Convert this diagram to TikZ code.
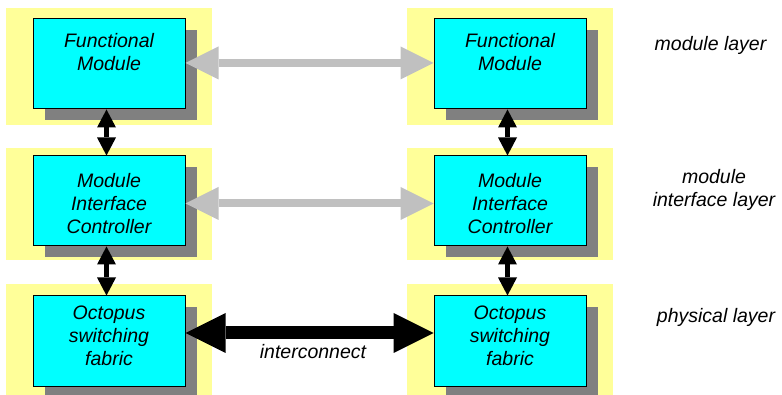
\documentclass[tikz,border=0pt]{standalone}
\usepackage{fontspec}
\setmainfont{Liberation Sans}
\usetikzlibrary{arrows.meta}
\definecolor{padyellow}{RGB}{255,255,153}
\definecolor{boxcyan}{RGB}{0,255,255}
\definecolor{shadowgray}{RGB}{128,128,128}
\definecolor{linkgray}{RGB}{192,192,192}
\begin{document}
\begin{tikzpicture}[x=1pt,y=-1pt,
  pad/.style={fill=padyellow},
  shade/.style={fill=shadowgray},
  modbox/.style={draw=black, line width=1pt, fill=boxcyan, minimum width=152pt, minimum height=90pt, inner sep=0pt},
  boxtext/.style={font=\fontsize{19.5}{23}\selectfont\itshape, align=center, inner sep=0pt},
  lbl/.style={font=\fontsize{19.5}{23}\selectfont\itshape, align=center, inner sep=0pt},
  vlink/.style={line width=4.5pt, {Triangle[width=19pt,length=18pt,line width=0pt]}-{Triangle[width=19pt,length=18pt,line width=0pt]}},
  glink/.style={draw=linkgray, line width=8pt, {Triangle[width=33pt,length=33pt,line width=0pt]}-{Triangle[width=33pt,length=33pt,line width=0pt]}},
  blink/.style={draw=black, line width=13pt, {Triangle[width=40pt,length=40pt,line width=0pt]}-{Triangle[width=40pt,length=40pt,line width=0pt]}}]
\useasboundingbox (0,0) rectangle (782,395);
% yellow pads
\fill[pad] (6,8) rectangle (212,125);
\fill[pad] (407,8) rectangle (613,125);
\fill[pad] (6,148) rectangle (212,260);
\fill[pad] (407,148) rectangle (613,260);
\fill[pad] (6,284) rectangle (212,397);
\fill[pad] (407,284) rectangle (613,397);
% shadows
\fill[shade] (45,30) rectangle (197,120);
\fill[shade] (446,30) rectangle (598,120);
\fill[shade] (45,167) rectangle (197,257);
\fill[shade] (446,167) rectangle (598,257);
\fill[shade] (45,307) rectangle (197,397);
\fill[shade] (446,307) rectangle (598,397);
% boxes
\node[modbox] (fm1) at (109,64) {};
\node[modbox] (fm2) at (510,64) {};
\node[modbox] (mic1) at (109,201) {};
\node[modbox] (mic2) at (510,201) {};
\node[modbox] (osf1) at (109,341) {};
\node[modbox] (osf2) at (510,341) {};
% box texts
\node[boxtext] (fm1t) at (109,54.9) {\strut Functional\\Module\strut};
\node[boxtext] (fm2t) at (510,54.9) {\strut Functional\\Module\strut};
\node[boxtext] (mic1t) at (109,205.9) {\strut Module\\Interface\\Controller\strut};
\node[boxtext] (mic2t) at (510,205.9) {\strut Module\\Interface\\Controller\strut};
\node[boxtext] (osf1t) at (109,338.4) {\strut Octopus\\switching\\fabric\strut};
\node[boxtext] (osf2t) at (510,338.4) {\strut Octopus\\switching\\fabric\strut};
% vertical links
\draw[vlink] ([xshift=-2.5pt]fm1.south) -- ([xshift=-2.5pt]mic1.north);
\draw[vlink] ([xshift=-2.5pt]mic1.south) -- ([xshift=-2.5pt]osf1.north);
\draw[vlink] ([xshift=-2.5pt]fm2.south) -- ([xshift=-2.5pt]mic2.north);
\draw[vlink] ([xshift=-2.5pt]mic2.south) -- ([xshift=-2.5pt]osf2.north);
% horizontal links
\draw[glink] ([yshift=1pt]fm1.east) -- ([yshift=1pt]fm2.west);
\draw[glink] ([yshift=-2.5pt]mic1.east) -- ([yshift=-2.5pt]mic2.west);
\draw[blink] ([yshift=8pt]osf1.east) -- ([yshift=8pt]osf2.west);
\node[lbl, anchor=base] (ic) at (313,359) {interconnect};
% layer labels
\node[lbl, anchor=base] (l1) at (710.5,51) {module layer};
\node[lbl] (l2) at (714,190.4) {\strut module\\interface layer\strut};
\node[lbl, anchor=base] (l3) at (716,323) {physical layer};
\end{tikzpicture}
\end{document}
